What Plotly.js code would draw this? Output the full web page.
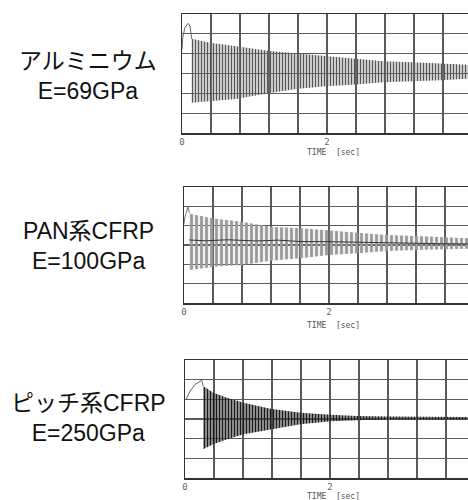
<!DOCTYPE html>
<html>
<head>
<meta charset="utf-8">
<script src="https://cdn.plot.ly/plotly-3.0.1.min.js"></script>
<style>
html, body { margin:0; padding:0; overflow:hidden; background:#fff; }
#chart { width:480px; height:500px; }
</style>
</head>
<body>
<div id="chart"></div>
<script>
// ---- data (time in s, amplitude in grid divisions) ----
const materials = ["アルミニウム", "PAN系CFRP", "ピッチ系CFRP"];
const moduli = ["E=69GPa", "E=100GPa", "E=250GPa"];
const gridTimes = [0, 0.4, 0.8, 1.2, 1.6, 2.0, 2.4, 2.8, 3.2, 3.6, 4.0];
const tickLabels = ["0", "", "", "", "", "2", "", "", "", "", "4"];
const axisTitle = "TIME  [sec]";

// Aluminium
const alT     = [0.13, 0.39, 0.75, 1.21, 1.60, 1.99, 2.39, 2.78, 3.18, 3.57, 3.93, 4.0];
const alUpper = [1.75, 1.55, 1.38, 1.13, 1.01, 0.88, 0.74, 0.62, 0.57, 0.51, 0.44, 0.43];
const alLower = [-1.48, -1.40, -1.28, -0.98, -0.77, -0.64, -0.55, -0.44, -0.39, -0.34, -0.27, -0.27];
const alStartT = [0.0, 0.01, 0.04, 0.087, 0.11, 0.124, 0.134];
const alStartY = [1.2, 1.80, 2.32, 2.53, 2.37, 2.02, 1.75];

// PAN CFRP
const panT     = [0.07, 0.27, 0.41, 0.80, 1.19, 1.61, 2.00, 2.40, 2.80, 3.20, 3.60, 3.91, 4.0];
const panUpper = [1.63, 1.46, 1.37, 1.20, 0.94, 0.86, 0.74, 0.64, 0.52, 0.46, 0.40, 0.34, 0.33];
const panLower = [-1.29, -1.20, -1.12, -1.03, -0.81, -0.69, -0.52, -0.43, -0.31, -0.26, -0.22, -0.19, -0.19];
const panMeanT = [0.07, 0.3, 0.6, 1.0, 1.3, 1.6, 2.0, 2.5, 3.0, 3.5, 4.0];
const panMeanY = [0.26, 0.22, 0.27, 0.21, 0.25, 0.18, 0.17, 0.13, 0.10, 0.07, 0.05];
const panStartT = [0.0, 0.014, 0.055, 0.076];
const panStartY = [1.1, 1.46, 1.97, 1.65];

// Pitch CFRP
const pitT     = [0.25, 0.39, 0.58, 0.81, 1.18, 1.59, 2.01, 2.38, 2.79, 3.90, 4.0];
const pitUpper = [1.68, 1.34, 1.08, 0.83, 0.52, 0.32, 0.22, 0.15, 0.13, 0.10, 0.10];
const pitLower = [-1.54, -1.29, -1.03, -0.78, -0.52, -0.27, -0.12, -0.06, -0.02, -0.02, -0.02];
const pitStartT = [0.014, 0.07, 0.14, 0.23, 0.25];
const pitStartY = [1.0, 1.42, 1.76, 1.97, 1.68];

// ---- build ----
function band(t, up, lo, xa, ya, fg, size, sol, bg) {
  return {
    x: t.concat(t.slice().reverse()),
    y: up.concat(lo.slice().reverse()),
    xaxis: xa, yaxis: ya, type: "scatter", mode: "lines",
    fill: "toself", line: {width: 0, color: fg},
    fillcolor: bg,
    fillpattern: {shape: "|", size: size, solidity: sol, fgcolor: fg, bgcolor: bg},
    hoverinfo: "skip", showlegend: false
  };
}
function line(t, y, xa, ya, color, w) {
  return {x: t, y: y, xaxis: xa, yaxis: ya, type: "scatter", mode: "lines",
    line: {color: color, width: w}, hoverinfo: "skip", showlegend: false};
}

const data = [
  band(alT, alUpper, alLower, "x", "y", "#555", 3, 0.45, "rgba(150,150,150,0.25)"),
  line(alStartT, alStartY, "x", "y", "#666", 1),
  band(panT, panUpper, panLower, "x2", "y2", "#999", 5, 0.55, "rgba(170,170,170,0.18)"),
  line(panMeanT, panMeanY, "x2", "y2", "#333", 1),
  line(panStartT, panStartY, "x2", "y2", "#777", 1),
  band(pitT, pitUpper, pitLower, "x3", "y3", "#1a1a1a", 3, 0.5, "rgba(80,80,80,0.45)"),
  line(pitStartT, pitStartY, "x3", "y3", "#666", 1)
];

const W = 480, H = 500;
const panels = [
  {left: 182, top: 14, bottom: 133, labelY: 76, titleY: 152},
  {left: 184, top: 187, bottom: 303, labelY: 246, titleY: 325},
  {left: 185, top: 360, bottom: 478, labelY: 418, titleY: 496}
];

function xax(p) {
  return {
    domain: [p.left / W, (p.left + 290) / W], range: [0, 4], fixedrange: true,
    tickmode: "array", tickvals: gridTimes, ticktext: tickLabels,
    ticks: "", showgrid: true, gridcolor: "#5a5a5a", gridwidth: 1.1,
    showline: true, mirror: true, linecolor: "#333", linewidth: 1.5,
    zeroline: false, tickfont: {family: "DejaVu Sans Mono, monospace", size: 9, color: "#666"}
  };
}
function yax(p, anchor) {
  return {
    domain: [1 - p.bottom / H, 1 - p.top / H], range: [-3, 3], fixedrange: true,
    dtick: 1, tick0: 0, showticklabels: false, ticks: "",
    showgrid: true, gridcolor: "#5a5a5a", gridwidth: 1.1,
    showline: true, mirror: true, linecolor: "#333", linewidth: 1.5,
    zeroline: false, anchor: anchor
  };
}

const annotations = [];
panels.forEach((p, i) => {
  annotations.push({
    xref: "paper", yref: "paper", x: 88 / W, y: 1 - p.labelY / H,
    xanchor: "center", yanchor: "middle", showarrow: false, align: "center",
    text: materials[i] + "<br>" + moduli[i],
    font: {family: "Liberation Sans, Arial, Noto Sans CJK JP, sans-serif", size: 23, color: "#111"}
  });
  annotations.push({
    xref: "paper", yref: "paper", x: 333 / W, y: 1 - p.titleY / H,
    xanchor: "center", yanchor: "middle", showarrow: false,
    text: axisTitle,
    font: {family: "DejaVu Sans Mono, monospace", size: 8, color: "#555"}
  });
});

const layout = {
  width: W, height: H, margin: {l: 0, r: 0, t: 0, b: 0},
  paper_bgcolor: "#fff", plot_bgcolor: "#fff", showlegend: false,
  xaxis: Object.assign(xax(panels[0]), {anchor: "y"}),
  xaxis2: Object.assign(xax(panels[1]), {anchor: "y2"}),
  xaxis3: Object.assign(xax(panels[2]), {anchor: "y3"}),
  yaxis: yax(panels[0], "x"),
  yaxis2: yax(panels[1], "x2"),
  yaxis3: yax(panels[2], "x3"),
  annotations: annotations
};

Plotly.newPlot("chart", data, layout, {staticPlot: true, displayModeBar: false});
</script>
</body>
</html>
